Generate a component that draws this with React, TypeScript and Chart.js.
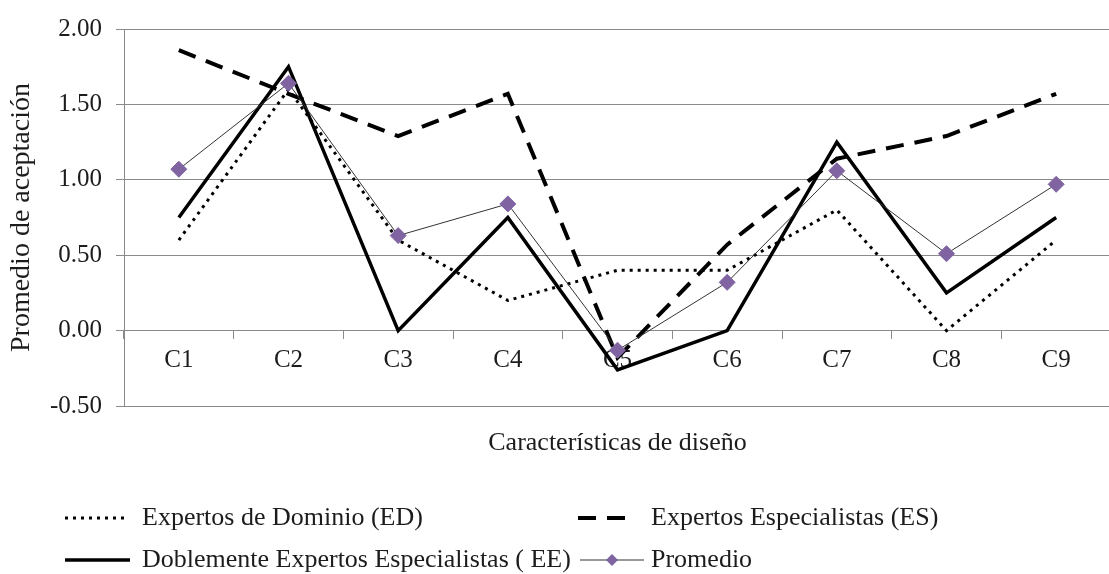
import { useEffect, useRef } from "react";
import { Chart, registerables } from "chart.js";

Chart.register(...registerables);

// ---- data ----
const categories = ["C1", "C2", "C3", "C4", "C5", "C6", "C7", "C8", "C9"];
const expertosDominio = [0.6, 1.6, 0.6, 0.2, 0.4, 0.4, 0.8, 0.0, 0.6];
const expertosEspecialistas = [1.86, 1.57, 1.29, 1.57, -0.18, 0.57, 1.14, 1.29, 1.57];
const doblementeExpertos = [0.75, 1.75, 0.0, 0.75, -0.26, 0.0, 1.25, 0.25, 0.75];
const promedio = [1.07, 1.64, 0.63, 0.84, -0.13, 0.32, 1.06, 0.51, 0.97];
const seriesLabels = [
  "Expertos de Dominio (ED)",
  "Expertos Especialistas (ES)",
  "Doblemente Expertos Especialistas ( EE)",
  "Promedio",
];
const yMin = -0.5;
const yMax = 2.0;
const yStep = 0.5;
const xAxisTitle = "Características de diseño";
const yAxisTitle = "Promedio de aceptación";

// ---- styles ----
const FONT = "'Liberation Serif', 'Times New Roman', serif";
const TEXT = "#1c1c1c";
const GRID = "#8a8a8a";
const PURPLE = "#8064A2";

// legend layout (positions of entries, in canvas pixels)
const legendSlots = [
  { x0: 65, x1: 128, textX: 142, y: 518 },
  { x0: 578, x1: 628, textX: 651, y: 518 },
  { x0: 65, x1: 130, textX: 142, y: 560 },
  { x0: 580, x1: 644, textX: 651, y: 560 },
];

const excelLegend = {
  id: "excelLegend",
  afterDraw(chart: any) {
    const ctx: CanvasRenderingContext2D = chart.ctx;
    const area = chart.chartArea;
    ctx.save();
    ctx.fillStyle = TEXT;
    ctx.font = `26px ${FONT}`;
    ctx.textAlign = "center";
    ctx.textBaseline = "middle";
    ctx.fillText(xAxisTitle, (area.left + area.right) / 2, area.bottom + 37);

    chart.data.datasets.forEach((ds: any, i: number) => {
      const s = legendSlots[i];
      ctx.save();
      ctx.strokeStyle = ds.borderColor;
      ctx.lineWidth = ds.borderWidth;
      ctx.setLineDash(ds.borderDash || []);
      ctx.beginPath();
      ctx.moveTo(s.x0, s.y);
      ctx.lineTo(s.x1, s.y);
      ctx.stroke();
      if (ds.pointRadius > 0) {
        const cx = (s.x0 + s.x1) / 2;
        const r = 6;
        ctx.setLineDash([]);
        ctx.fillStyle = ds.pointBackgroundColor;
        ctx.beginPath();
        ctx.moveTo(cx, s.y - r);
        ctx.lineTo(cx + r, s.y);
        ctx.lineTo(cx, s.y + r);
        ctx.lineTo(cx - r, s.y);
        ctx.closePath();
        ctx.fill();
      }
      ctx.restore();
      ctx.fillStyle = TEXT;
      ctx.font = `26px ${FONT}`;
      ctx.textAlign = "left";
      ctx.textBaseline = "middle";
      ctx.fillText(ds.label, s.textX, s.y);
    });
    ctx.restore();
  },
};

export default function App() {
  const canvasRef = useRef<HTMLCanvasElement | null>(null);

  useEffect(() => {
    const canvas = canvasRef.current;
    if (!canvas) return;
    const chart = new Chart(canvas, {
      type: "line",
      data: {
        labels: categories,
        datasets: [
          {
            label: seriesLabels[0],
            data: expertosDominio,
            borderColor: "#000000",
            borderWidth: 3,
            borderDash: [3, 5],
            pointRadius: 0,
            tension: 0,
            order: 4,
          },
          {
            label: seriesLabels[1],
            data: expertosEspecialistas,
            borderColor: "#000000",
            borderWidth: 4,
            borderDash: [18, 11],
            pointRadius: 0,
            tension: 0,
            order: 3,
          },
          {
            label: seriesLabels[2],
            data: doblementeExpertos,
            borderColor: "#000000",
            borderWidth: 3.5,
            pointRadius: 0,
            tension: 0,
            order: 2,
          },
          {
            label: seriesLabels[3],
            data: promedio,
            borderColor: "#333333",
            borderWidth: 1,
            pointStyle: "rectRot",
            pointRadius: 8,
            pointBackgroundColor: PURPLE,
            pointBorderColor: PURPLE,
            pointBorderWidth: 1,
            tension: 0,
            order: 1,
          },
        ] as any,
      },
      options: {
        animation: false,
        responsive: false,
        devicePixelRatio: 1,
        layout: { padding: { left: 0, right: 5, top: 22, bottom: 168 } },
        plugins: {
          legend: { display: false },
          tooltip: { enabled: false },
        },
        scales: {
          x: {
            type: "category",
            position: { y: 0 } as any,
            offset: true,
            grid: {
              display: true,
              drawOnChartArea: false,
              drawTicks: true,
              tickLength: 8,
              offset: true,
              color: GRID,
            },
            border: { display: true, color: GRID },
            ticks: {
              font: { size: 25, family: FONT },
              color: TEXT,
              padding: 7,
              maxRotation: 0,
              autoSkip: false,
            },
          },
          y: {
            min: yMin,
            max: yMax,
            afterFit(scale: any) {
              scale.width = 124;
            },
            grid: { color: GRID, tickLength: 8, drawTicks: true },
            border: { display: true, color: GRID },
            ticks: {
              stepSize: yStep,
              font: { size: 25, family: FONT },
              color: TEXT,
              padding: 14,
              callback: (v: any) => Number(v).toFixed(2),
            },
            title: {
              display: true,
              text: yAxisTitle,
              font: { size: 28, family: FONT },
              color: TEXT,
              padding: { top: 5, bottom: 0 },
            },
          },
        },
      },
      plugins: [excelLegend],
    });
    return () => chart.destroy();
  }, []);

  return (
    <div
      style={{
        position: "absolute",
        left: 0,
        top: 0,
        width: 1109,
        height: 574,
        overflow: "hidden",
        background: "#ffffff",
      }}
    >
      <canvas
        ref={canvasRef}
        width={1120}
        height={574}
        style={{ display: "block", width: 1120, height: 574 }}
      />
    </div>
  );
}
